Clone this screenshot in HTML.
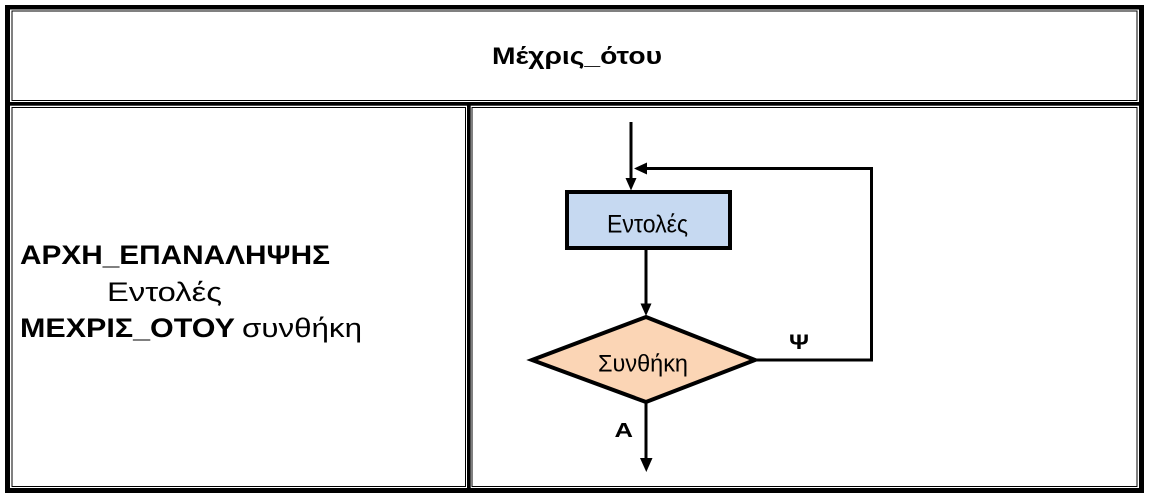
<!DOCTYPE html>
<html>
<head>
<meta charset="utf-8">
<style>
  html, body { margin:0; padding:0; background:#fff; }
  body { width:1153px; height:497px; overflow:hidden; }
  svg { display:block; }
  text { font-family: "Liberation Sans", "DejaVu Sans", sans-serif; fill:#000; }
</style>
</head>
<body>
<svg width="1153" height="497" viewBox="0 0 1153 497" xmlns="http://www.w3.org/2000/svg">
  <!-- outer thick frame -->
  <rect x="5" y="5" width="1139" height="4.5" fill="#000"/>
  <rect x="5" y="5" width="5" height="488" fill="#000"/>
  <rect x="1139" y="5" width="5" height="488" fill="#000"/>
  <rect x="5" y="488" width="1139" height="5" fill="#000"/>
  <!-- dividers -->
  <rect x="5" y="102" width="1139" height="3.7" fill="#000"/>
  <rect x="467" y="102" width="3.7" height="391" fill="#000"/>
  <!-- thin inner lines -->
  <rect x="12" y="11" width="1125" height="89.5" fill="none" stroke="#000" stroke-width="1"/>
  <rect x="12" y="107.5" width="453.5" height="379" fill="none" stroke="#000" stroke-width="1"/>
  <rect x="472" y="107.5" width="665" height="379" fill="none" stroke="#000" stroke-width="1"/>

  <!-- title -->
  <text x="492" y="64" font-size="24" font-weight="bold" textLength="170" lengthAdjust="spacingAndGlyphs">Μέχρις_ότου</text>

  <!-- left text -->
  <text x="20" y="264" font-size="27" font-weight="bold" textLength="310" lengthAdjust="spacingAndGlyphs">ΑΡΧΗ_ΕΠΑΝΑΛΗΨΗΣ</text>
  <text x="107" y="301" font-size="27" textLength="115" lengthAdjust="spacingAndGlyphs">Εντολές</text>
  <text x="20" y="337" font-size="27" font-weight="bold" textLength="215" lengthAdjust="spacingAndGlyphs">ΜΕΧΡΙΣ_ΟΤΟΥ</text>
  <text x="242" y="337" font-size="27" textLength="120" lengthAdjust="spacingAndGlyphs">συνθήκη</text>

  <!-- flowchart -->
  <g stroke="#000" stroke-width="3" fill="none">
    <line x1="631" y1="122" x2="631" y2="181"/>
    <polyline points="646,168.5 871.5,168.5 871.5,360 753,360"/>
    <line x1="646" y1="250" x2="646" y2="306"/>
    <line x1="646" y1="402" x2="646" y2="461"/>
  </g>
  <!-- arrowheads -->
  <polygon points="625.5,178 636.5,178 631,190.5" fill="#000"/>
  <polygon points="634,168.5 647,162.5 647,174.5" fill="#000"/>
  <polygon points="640.5,303.5 651.5,303.5 646,316" fill="#000"/>
  <polygon points="640,458 652.5,458 646.3,472" fill="#000"/>

  <!-- process box -->
  <rect x="567" y="192" width="163" height="56" fill="#c6d9f1" stroke="#000" stroke-width="4"/>
  <text x="607" y="232.5" font-size="25" fill="#111" textLength="81" lengthAdjust="spacingAndGlyphs">Εντολές</text>

  <!-- decision diamond -->
  <polygon points="646,317 755,360 646,402 532,360" fill="#fbd5b5" stroke="#000" stroke-width="4" stroke-linejoin="miter"/>
  <text x="598" y="371.5" font-size="24" fill="#111" textLength="90" lengthAdjust="spacingAndGlyphs">Συνθήκη</text>

  <!-- labels -->
  <text x="789" y="349" font-size="21" font-weight="bold" textLength="20" lengthAdjust="spacingAndGlyphs">Ψ</text>
  <text x="614.5" y="437" font-size="20.5" font-weight="bold" textLength="18.5" lengthAdjust="spacingAndGlyphs">Α</text>
</svg>
</body>
</html>
